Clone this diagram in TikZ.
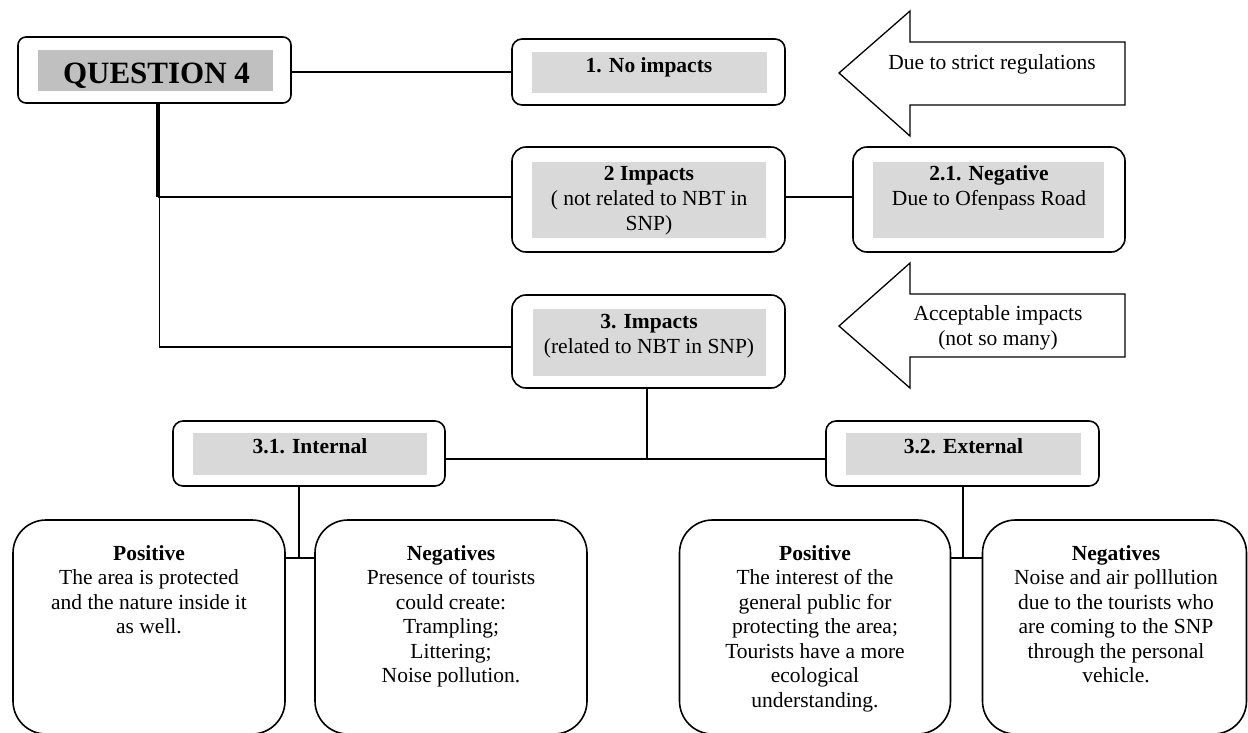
\documentclass[tikz,border=0pt]{standalone}
\usepackage{fontspec}
\setmainfont{Liberation Serif}
\definecolor{headgray}{HTML}{C0C0C0}
\definecolor{panelgray}{HTML}{D9D9D9}
\newcommand{\firstline}{\rule{0pt}{18pt}}
\newcommand{\bigline}{\rule{0pt}{25pt}}
\begin{document}
\begin{tikzpicture}[x=1pt,y=-1pt,
  box/.style={draw, line width=1.6pt, fill=white, inner sep=0pt, outer sep=0pt},
  panel/.style={fill=#1, draw=none, inner sep=0pt, outer sep=0pt},
  txt/.style={anchor=north, inner sep=0pt, outer sep=0pt, align=center,
              font=\fontsize{21.5}{24.5}\selectfont},
  link/.style={line width=1.3pt},
  bigarrow/.style={draw, line width=1.3pt, fill=white, line join=miter}]

% canvas
\fill[white] (0,0) rectangle (1248,732);
\useasboundingbox (0,0) rectangle (1248,732);

% junction points of the connector tree
\coordinate (j1) at (158,197);
\coordinate (j1t) at (159.5,197);
\coordinate (j2) at (159.5,347);
\coordinate (j3) at (647,459);
\coordinate (j4) at (299,558);
\coordinate (j5) at (963,558);

% ---- boxes ----
\node[box, rounded corners=8pt, minimum width=273pt, minimum height=66pt] (q4) at (154.5,70) {};
\node[panel=headgray, minimum width=235pt, minimum height=41pt] (q4g) at (155.5,70.5) {};
\node[txt, font=\fontsize{31}{35}\selectfont\bfseries] (q4t) at (156.5,58) {\bigline QUESTION 4};

\node[box, rounded corners=10pt, minimum width=273pt, minimum height=66pt] (b1) at (648.5,72) {};
\node[panel=panelgray, minimum width=235pt, minimum height=41pt] (b1g) at (649.5,72.5) {};
\node[txt] (b1t) at (649,54) {\firstline\textbf{1. No impacts}};

\node[box, rounded corners=14pt, minimum width=273pt, minimum height=105pt] (b2) at (648.5,199.5) {};
\node[panel=panelgray, minimum width=234pt, minimum height=76pt] (b2g) at (649,200) {};
\node[txt, font=\fontsize{21.5}{25}\selectfont] (b2t) at (649,162) {\firstline\textbf{2 Impacts}\\( not related to NBT in\\SNP)};

\node[box, rounded corners=14pt, minimum width=272pt, minimum height=105pt] (b21) at (989,199.5) {};
\node[panel=panelgray, minimum width=231pt, minimum height=76pt] (b21g) at (988.5,200) {};
\node[txt, font=\fontsize{21.5}{25}\selectfont] (b21t) at (989,162) {\firstline\textbf{2.1. Negative}\\Due to Ofenpass Road};

\node[box, rounded corners=14pt, minimum width=273pt, minimum height=93pt] (b3) at (648.5,341.5) {};
\node[panel=panelgray, minimum width=233pt, minimum height=67pt] (b3g) at (649.5,342.5) {};
\node[txt, font=\fontsize{21.5}{25}\selectfont] (b3t) at (649,310) {\firstline\textbf{3. Impacts}\\(related to NBT in SNP)};

\node[box, rounded corners=10pt, minimum width=272pt, minimum height=65pt] (b31) at (309,453.5) {};
\node[panel=panelgray, minimum width=234pt, minimum height=42pt] (b31g) at (310,454) {};
\node[txt] (b31t) at (310,435) {\firstline\textbf{3.1. Internal}};

\node[box, rounded corners=10pt, minimum width=273pt, minimum height=65pt] (b32) at (962.5,453.5) {};
\node[panel=panelgray, minimum width=235pt, minimum height=42pt] (b32g) at (963.5,454) {};
\node[txt] (b32t) at (963.5,435) {\firstline\textbf{3.2. External}};

% the four outcome boxes run past the lower edge
\node[box, rounded corners=33pt, minimum width=272pt, minimum height=214pt] (p1) at (149,627) {};
\node[txt] (p1t) at (149,542) {\firstline\textbf{Positive}\\The area is protected\\and the nature inside it\\as well.};

\node[box, rounded corners=33pt, minimum width=272pt, minimum height=214pt] (n1) at (451,627) {};
\node[txt] (n1t) at (451,542) {\firstline\textbf{Negatives}\\Presence of tourists\\could create:\\Trampling;\\Littering;\\Noise pollution.};

\node[box, rounded corners=33pt, minimum width=271pt, minimum height=214pt] (p2) at (815,627) {};
\node[txt] (p2t) at (815,542) {\firstline\textbf{Positive}\\The interest of the\\general public for\\protecting the area;\\Tourists have a more\\ecological\\understanding.};

\node[box, rounded corners=33pt, minimum width=264pt, minimum height=214pt] (n2) at (1114.5,627) {};
\node[txt] (n2t) at (1116,542) {\firstline\textbf{Negatives}\\Noise and air polllution\\due to the tourists who\\are coming to the SNP\\through the personal\\vehicle.};

% ---- block arrows pointing left ----
\draw[bigarrow] (839,73) -- (910,11) -- (910,42) -- (1125,42) -- (1125,105)
  -- (910,105) -- (910,136) -- cycle;
\node[txt] (a1t) at (992,51) {\firstline Due to strict regulations};

\draw[bigarrow] (839,326) -- (910,263) -- (910,294) -- (1125,294) -- (1125,357)
  -- (910,357) -- (910,388) -- cycle;
\node[txt, font=\fontsize{21.5}{25.5}\selectfont] (a2t) at (998,302) {\firstline Acceptable impacts\\(not so many)};

% ---- connectors ----
\draw[link] (q4.east |- b1.west) -- (b1.west);
\draw[line width=4pt] (q4.south -| j1) -- (j1);
\draw[link] (j1) -- (b2.west |- j1);
\draw[link] (j1t) -- (j2) -- (b3.west |- j2);
\draw[link] (b2.east |- j1) -- (b21.west |- j1);
\draw[link] (b3.south -| j3) -- (j3);
\draw[link] (b31.east |- j3) -- (b32.west |- j3);
\draw[link] (b31.south -| j4) -- (j4);
\draw[link] (p1.east |- j4) -- (n1.west |- j4);
\draw[link] (b32.south -| j5) -- (j5);
\draw[link] (p2.east |- j5) -- (n2.west |- j5);
\end{tikzpicture}
\end{document}
